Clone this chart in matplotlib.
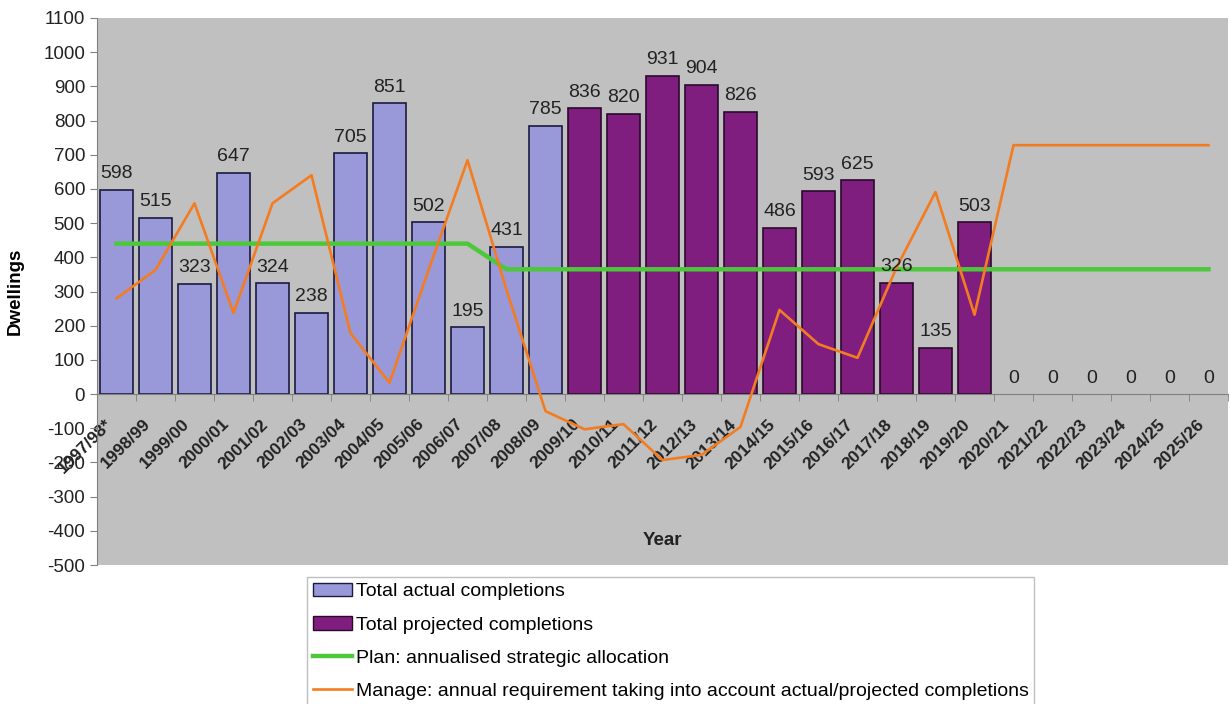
import numpy as np
import matplotlib.pyplot as plt
import matplotlib.transforms as mtransforms
from matplotlib.patches import Patch
from matplotlib.lines import Line2D

plt.rcParams['font.family'] = ['Liberation Sans', 'DejaVu Sans']
plt.rcParams['axes.unicode_minus'] = False

# Data
years = ['1997/98*', '1998/99', '1999/00', '2000/01', '2001/02', '2002/03',
         '2003/04', '2004/05', '2005/06', '2006/07', '2007/08', '2008/09',
         '2009/10', '2010/11', '2011/12', '2012/13', '2013/14', '2014/15',
         '2015/16', '2016/17', '2017/18', '2018/19', '2019/20', '2020/21',
         '2021/22', '2022/23', '2023/24', '2024/25', '2025/26']
actual = [598, 515, 323, 647, 324, 238, 705, 851, 502, 195, 431, 785]
projected = [836, 820, 931, 904, 826, 486, 593, 625, 326, 135, 503,
             0, 0, 0, 0, 0, 0]
plan = [440, 440, 440, 440, 440, 440, 440, 440, 440, 440,
        365, 365, 365, 365, 365, 365, 365, 365, 365, 365,
        365, 365, 365, 365, 365, 365, 365, 365, 365]
manage = [280, 363, 558, 237, 558, 640, 178, 33, 362, 684, 305, -50,
          -103, -88, -193, -178, -96, 246, 146, 106, 370, 591, 232,
          728, 728, 728, 728, 728, 728]

LIGHT = '#9999d9'
DARK = '#7f1e7f'
GREEN = '#4cc83a'
ORANGE = '#f47c20'
BG = '#c0c0c0'

fig = plt.figure(figsize=(12.3, 7.04), dpi=100)
ax = fig.add_axes([97 / 1230, 1 - 565 / 704, 1131 / 1230, 547 / 704])
ax.set_facecolor(BG)

# spines first (set_position resets the ticks)
ax.spines['bottom'].set_position(('data', 0))
ax.spines['bottom'].set_color('#808080')
ax.spines['left'].set_color('#808080')
ax.spines['top'].set_visible(False)
ax.spines['right'].set_visible(False)

x = np.arange(len(years))
xa = x[:len(actual)]
xp = x[len(actual):]
w = 0.86

ax.bar(xa, actual, width=w, color=LIGHT, edgecolor='#1a1a40', linewidth=1.2, zorder=2)
# zero-height bars get no outline
proj_lw = [1.2 if v else 0 for v in projected]
ax.bar(xp, projected, width=w, color=DARK, edgecolor='#2a0a2a', linewidth=proj_lw, zorder=2)

ax.plot(x, plan, color=GREEN, linewidth=3.2, zorder=3)
ax.plot(x, manage, color=ORANGE, linewidth=1.9, zorder=4)

# value labels
for xi, v in zip(list(xa) + list(xp), actual + projected):
    ax.text(xi, v + 22, str(v), ha='center', va='bottom', fontsize=14, color='#222222', zorder=5)

ax.set_xlim(-0.5, len(years) - 0.5)
ax.set_ylim(-500, 1100)
ax.set_yticks(np.arange(-500, 1101, 100))
ax.tick_params(axis='y', labelsize=13.5, length=5, color='#808080', labelcolor='#222222')

ax.set_xticks(np.arange(-0.5, len(years), 1), minor=True)
ax.tick_params(axis='x', which='minor', length=5, color='#808080')
ax.tick_params(axis='x', which='major', length=0, pad=20)
ax.set_xticks(x)
ax.set_xticklabels(years, rotation=45, ha='right', va='center', rotation_mode='anchor',
                   fontsize=12.5, fontweight='bold', color='#222222')
shift = mtransforms.ScaledTranslation(-7 / 100, 0, fig.dpi_scale_trans)
for lab in ax.get_xticklabels():
    lab.set_transform(lab.get_transform() + shift)

ax.set_ylabel('Dwellings', fontsize=13.5, fontweight='bold', labelpad=14)
ax.text(14, -427, 'Year', ha='center', va='center', fontsize=13.5, fontweight='bold', color='#222222')

handles = [Patch(facecolor=LIGHT, edgecolor='#1a1a40'),
           Patch(facecolor=DARK, edgecolor='#2a0a2a'),
           Line2D([], [], color=GREEN, linewidth=3.2),
           Line2D([], [], color=ORANGE, linewidth=1.9)]
labels = ['Total actual completions', 'Total projected completions',
          'Plan: annualised strategic allocation',
          'Manage: annual requirement taking into account actual/projected completions']
fig.legend(handles, labels, loc='upper left', bbox_to_anchor=(307 / 1230, 1 - 577 / 704),
           fontsize=14, frameon=True, fancybox=False, edgecolor='#b0b0b0',
           handlelength=2.0, handletextpad=0.2, labelspacing=0.8, borderaxespad=0,
           borderpad=0.3)

fig.savefig('out.png', dpi=100)
